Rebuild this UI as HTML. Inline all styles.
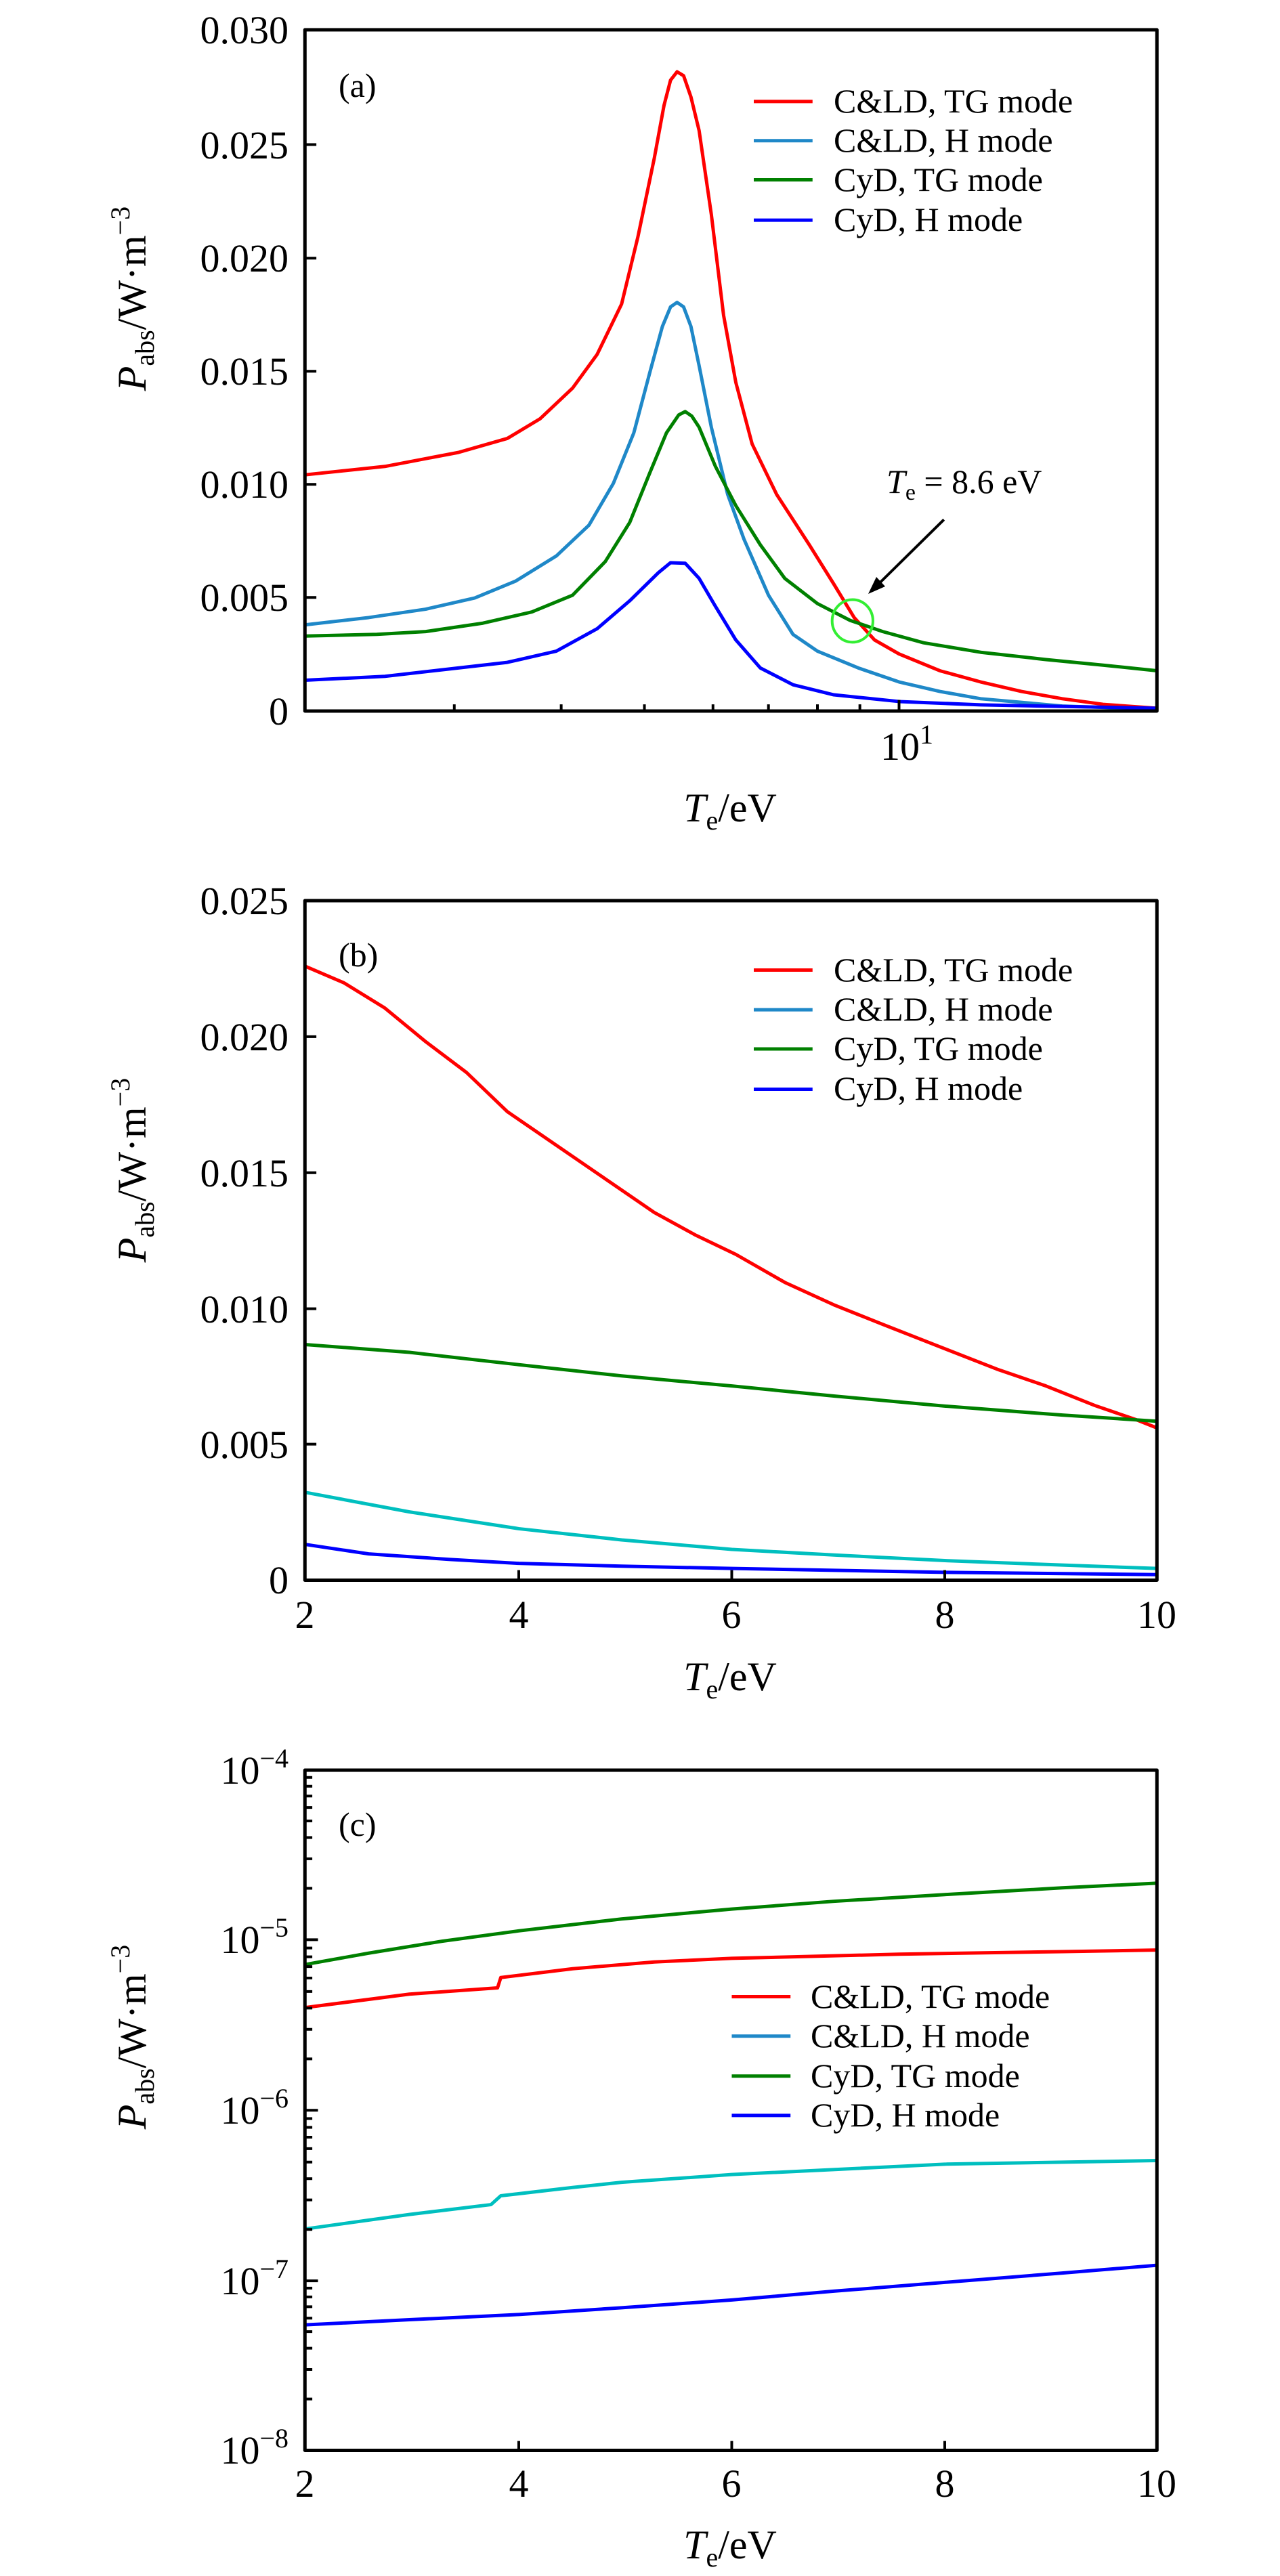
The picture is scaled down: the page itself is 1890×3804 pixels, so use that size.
<!DOCTYPE html>
<html><head><meta charset="utf-8"><style>
html,body{margin:0;padding:0;background:#fff;}
svg{display:block;}
text{font-family:"Liberation Serif",serif;fill:#000;}
.t{font-size:58px;}
.lg{font-size:50px;}
.lab{font-size:60px;}
g.d *{vector-effect:non-scaling-stroke;fill:none;stroke-linejoin:round;}
</style></head><body>
<svg width="1890" height="3804" viewBox="0 0 1890 3804" xmlns="http://www.w3.org/2000/svg">
<rect width="1890" height="3804" fill="#fff"/>

<!-- ===== Panel (a) ===== -->
<g class="d" transform="translate(2,2.7) scale(1.205,0.8266)">
<polyline stroke="#ff0000" stroke-width="5" points="372,845 470,830 560,805 620,780 660,745 700,690 730,630 760,540 780,420 800,280 812,185 820,140 828,125 836,132 845,170 855,230 870,380 885,560 900,680 920,790 950,880 990,970 1020,1040 1045,1100 1070,1140 1100,1165 1150,1195 1200,1215 1250,1232 1300,1245 1350,1255 1416,1262"/>
<polyline stroke="#1f88c8" stroke-width="5" points="372,1113 450,1100 520,1085 580,1065 630,1035 680,990 720,935 750,860 775,770 795,660 810,580 820,545 828,537 836,545 845,580 855,650 870,760 890,880 910,960 940,1060 970,1130 1000,1160 1050,1190 1100,1215 1150,1232 1200,1245 1300,1258 1416,1264"/>
<polyline stroke="#008000" stroke-width="5" points="372,1133 460,1130 520,1125 590,1110 650,1090 700,1060 740,1000 770,930 795,840 815,770 830,738 838,732 846,740 855,760 875,830 900,900 930,970 960,1030 1000,1075 1040,1105 1080,1125 1130,1145 1200,1162 1280,1175 1350,1185 1416,1195"/>
<polyline stroke="#0000ff" stroke-width="5" points="372,1212 470,1205 560,1190 620,1180 680,1160 730,1120 770,1070 805,1020 820,1002 838,1003 855,1030 875,1080 900,1140 930,1190 970,1220 1020,1238 1100,1250 1200,1256 1416,1262"/>
<ellipse cx="1043" cy="1106" rx="25" ry="38" stroke="#33ee33" stroke-width="4"/>
<line x1="1155" y1="925" x2="1077" y2="1037" stroke="#000" stroke-width="4"/>
<path d="M372,50V1267H1416V50Z" stroke="#000" stroke-width="5"/>
<path d="M372,255h14M372,458h14M372,660h14M372,862h14M372,1064h14M555,1267v-12M686,1267v-12M788,1267v-12M872,1267v-12M940,1267v-12M1000,1267v-12M1052,1267v-12M1100,1267v-20" stroke="#000" stroke-width="4"/>
<line x1="922" y1="178" x2="994" y2="178" stroke="#ff0000" stroke-width="5"/>
<line x1="922" y1="248" x2="994" y2="248" stroke="#1f88c8" stroke-width="5"/>
<line x1="922" y1="318" x2="994" y2="318" stroke="#008000" stroke-width="5"/>
<line x1="922" y1="390" x2="994" y2="390" stroke="#0000ff" stroke-width="5"/>
</g>
<polygon points="1282,877 1307,866 1294,852" fill="#000"/>
<g class="t" text-anchor="end">
<text x="426" y="64">0.030</text><text x="426" y="234">0.025</text><text x="426" y="401">0.020</text>
<text x="426" y="568">0.015</text><text x="426" y="735">0.010</text><text x="426" y="902">0.005</text><text x="426" y="1070">0</text>
</g>
<text class="t" x="1300" y="1122">10<tspan font-size="40" dy="-24">1</tspan></text>
<text class="lab" x="1078" y="1213" text-anchor="middle"><tspan font-style="italic">T</tspan><tspan font-size="40" dy="12">e</tspan><tspan dy="-12">/eV</tspan></text>
<text class="lab" transform="translate(215,441) rotate(-90)" text-anchor="middle"><tspan font-style="italic">P</tspan><tspan font-size="40" dy="12">abs</tspan><tspan dy="-12">/W·m</tspan><tspan font-size="40" dy="-24">−3</tspan></text>
<text class="lg" x="500" y="143">(a)</text>
<g class="lg"><text x="1231" y="166">C&amp;LD, TG mode</text><text x="1231" y="224">C&amp;LD, H mode</text><text x="1231" y="282">CyD, TG mode</text><text x="1231" y="341">CyD, H mode</text></g>
<text class="lg" x="1309" y="728"><tspan font-style="italic">T</tspan><tspan font-size="34" dy="10">e</tspan><tspan dy="-10"> = 8.6 eV</tspan></text>

<!-- ===== Panel (b) ===== -->
<g class="d" transform="translate(2,1302.7) scale(1.205,0.8266)">
<polyline stroke="#ff0000" stroke-width="5" points="372,150 420,180 470,225 520,285 570,340 620,410 680,470 740,530 800,590 850,630 900,665 960,715 1020,755 1080,790 1150,830 1220,870 1280,900 1340,935 1390,960 1416,975"/>
<polyline stroke="#008000" stroke-width="5" points="372,826 500,840 634,862 760,882 895,900 1020,918 1156,936 1300,952 1416,963"/>
<polyline stroke="#00bfbf" stroke-width="5" points="372,1090 500,1125 634,1155 760,1175 895,1192 1020,1202 1156,1212 1300,1220 1416,1226"/>
<polyline stroke="#0000ff" stroke-width="5" points="372,1183 450,1200 550,1210 634,1217 760,1222 895,1226 1156,1233 1416,1237"/>
<path d="M372,33V1247H1416V33Z" stroke="#000" stroke-width="5"/>
<path d="M372,276h14M372,519h14M372,762h14M372,1004h14M634,1247v-18M895,1247v-18M1156,1247v-18" stroke="#000" stroke-width="4"/>
<line x1="922" y1="157" x2="994" y2="157" stroke="#ff0000" stroke-width="5"/>
<line x1="922" y1="228" x2="994" y2="228" stroke="#1f88c8" stroke-width="5"/>
<line x1="922" y1="298" x2="994" y2="298" stroke="#008000" stroke-width="5"/>
<line x1="922" y1="370" x2="994" y2="370" stroke="#0000ff" stroke-width="5"/>
</g>
<g class="t" text-anchor="end">
<text x="426" y="1350">0.025</text><text x="426" y="1551">0.020</text><text x="426" y="1752">0.015</text>
<text x="426" y="1953">0.010</text><text x="426" y="2153">0.005</text><text x="426" y="2353">0</text>
</g>
<g class="t" text-anchor="middle">
<text x="450" y="2404">2</text><text x="766" y="2404">4</text><text x="1080" y="2404">6</text><text x="1395" y="2404">8</text><text x="1708" y="2404">10</text>
</g>
<text class="lab" x="1078" y="2496" text-anchor="middle"><tspan font-style="italic">T</tspan><tspan font-size="40" dy="12">e</tspan><tspan dy="-12">/eV</tspan></text>
<text class="lab" transform="translate(215,1728) rotate(-90)" text-anchor="middle"><tspan font-style="italic">P</tspan><tspan font-size="40" dy="12">abs</tspan><tspan dy="-12">/W·m</tspan><tspan font-size="40" dy="-24">−3</tspan></text>
<text class="lg" x="500" y="1427">(b)</text>
<g class="lg"><text x="1231" y="1449">C&amp;LD, TG mode</text><text x="1231" y="1507">C&amp;LD, H mode</text><text x="1231" y="1565">CyD, TG mode</text><text x="1231" y="1624">CyD, H mode</text></g>

<!-- ===== Panel (c) ===== -->
<g class="d" transform="translate(2,2602.5) scale(1.205,0.7656)">
<polyline stroke="#008000" stroke-width="5" points="372,390 450,368 540,345 634,325 760,302 895,283 1020,268 1156,255 1300,242 1416,233"/>
<polyline stroke="#ff0000" stroke-width="5" points="372,473 500,447 608,435 612,415 700,398 800,385 895,378 1100,370 1300,365 1416,362"/>
<polyline stroke="#00bfbf" stroke-width="5" points="372,900 500,872 600,853 612,836 700,820 760,810 895,795 1156,775 1416,768"/>
<polyline stroke="#0000ff" stroke-width="5" points="372,1085 500,1075 634,1065 760,1052 895,1037 1020,1020 1156,1003 1300,985 1416,970"/>
<path d="M372,15V1327H1416V15Z" stroke="#000" stroke-width="5"/>
<path d="M372,342h16M372,671h16M372,1000h16M634,1327v-18M895,1327v-18M1156,1327v-18
M372,243h9M372,186h9M372,145h9M372,113h9M372,87h9M372,65h9M372,46h9M372,29h9
M372,572h9M372,515h9M372,474h9M372,442h9M372,416h9M372,394h9M372,375h9M372,358h9
M372,901h9M372,844h9M372,803h9M372,771h9M372,745h9M372,723h9M372,704h9M372,687h9
M372,1228h9M372,1171h9M372,1130h9M372,1098h9M372,1072h9M372,1050h9M372,1031h9M372,1014h9" stroke="#000" stroke-width="4"/>
<line x1="895" y1="452" x2="967" y2="452" stroke="#ff0000" stroke-width="5"/>
<line x1="895" y1="528" x2="967" y2="528" stroke="#1f88c8" stroke-width="5"/>
<line x1="895" y1="605" x2="967" y2="605" stroke="#008000" stroke-width="5"/>
<line x1="895" y1="681" x2="967" y2="681" stroke="#0000ff" stroke-width="5"/>
</g>
<g class="t" text-anchor="end">
<text x="426" y="2634">10<tspan font-size="40" dy="-24">−4</tspan></text>
<text x="426" y="2884">10<tspan font-size="40" dy="-24">−5</tspan></text>
<text x="426" y="3136">10<tspan font-size="40" dy="-24">−6</tspan></text>
<text x="426" y="3388">10<tspan font-size="40" dy="-24">−7</tspan></text>
<text x="426" y="3638">10<tspan font-size="40" dy="-24">−8</tspan></text>
</g>
<g class="t" text-anchor="middle">
<text x="450" y="3687">2</text><text x="766" y="3687">4</text><text x="1080" y="3687">6</text><text x="1395" y="3687">8</text><text x="1708" y="3687">10</text>
</g>
<text class="lab" x="1078" y="3778" text-anchor="middle"><tspan font-style="italic">T</tspan><tspan font-size="40" dy="12">e</tspan><tspan dy="-12">/eV</tspan></text>
<text class="lab" transform="translate(215,3008) rotate(-90)" text-anchor="middle"><tspan font-style="italic">P</tspan><tspan font-size="40" dy="12">abs</tspan><tspan dy="-12">/W·m</tspan><tspan font-size="40" dy="-24">−3</tspan></text>
<text class="lg" x="500" y="2711">(c)</text>
<g class="lg"><text x="1197" y="2965">C&amp;LD, TG mode</text><text x="1197" y="3023">C&amp;LD, H mode</text><text x="1197" y="3082">CyD, TG mode</text><text x="1197" y="3140">CyD, H mode</text></g>
</svg>
</body></html>
